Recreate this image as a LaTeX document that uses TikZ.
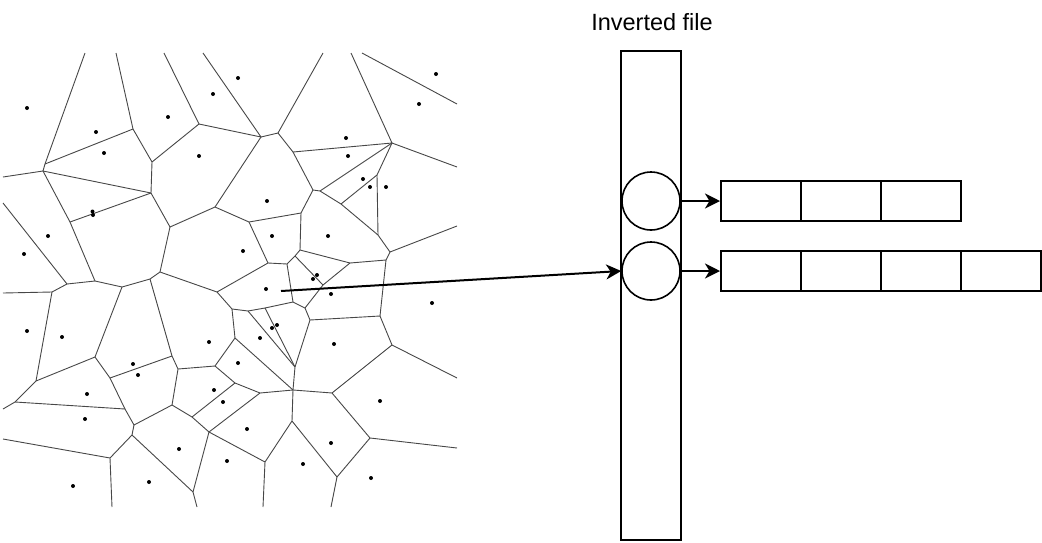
\documentclass[tikz,border=0pt]{standalone}
\usepackage{fontspec}
\newfontfamily\lsans{Liberation Sans}
\usetikzlibrary{arrows.meta}
\begin{document}
\begin{tikzpicture}[x=1pt,y=-1pt,
  vor/.style={draw=black!72, line width=0.9pt, line join=round},
  seed/.style={fill=black},
  frame/.style={draw=black, line width=2pt, inner sep=0pt, minimum width=80pt, minimum height=40pt},
  col/.style={draw=black, line width=2pt, inner sep=0pt, minimum width=60pt, minimum height=489pt},
  slot/.style={draw=black, line width=1.6pt, circle, inner sep=0pt, minimum size=58pt},
  link/.style={draw=black, line width=2pt, -{Stealth[length=15pt,width=15pt,inset=4.5pt]}}]
\useasboundingbox (0,0) rectangle (1042,542);
% ---- Voronoi vertices
\coordinate (A1) at (45,164); \coordinate (A2) at (43,171);
\coordinate (B) at (133,129); \coordinate (C) at (151,193);
\coordinate (D) at (152,162); \coordinate (E) at (199,124);
\coordinate (F) at (70,222); \coordinate (G) at (170,227);
\coordinate (H) at (215,207); \coordinate (I) at (160,272);
\coordinate (J) at (261,137); \coordinate (K) at (278,133);
\coordinate (L) at (293,152); \coordinate (M) at (392,143);
\coordinate (N) at (313,190); \coordinate (N2) at (320,191);
\coordinate (O) at (377,175); \coordinate (P) at (341,204);
\coordinate (Q1) at (378,235); \coordinate (Q) at (390,252);
\coordinate (R) at (301,213); \coordinate (S) at (249,222);
\coordinate (T) at (268,263); \coordinate (T2) at (287,264);
\coordinate (U) at (300,250); \coordinate (U2) at (295,256);
\coordinate (V) at (350,263); \coordinate (W) at (386,260);
\coordinate (X1) at (380,316); \coordinate (X2) at (392,345);
\coordinate (Y1) at (332,393); \coordinate (Y2) at (370,438);
\coordinate (Y3) at (337,477); \coordinate (Z1) at (292,421);
\coordinate (Z2) at (265,462);
\coordinate (a) at (67,284); \coordinate (b) at (95,281);
\coordinate (c) at (52,292); \coordinate (d) at (122,287);
\coordinate (e) at (150,279); \coordinate (f) at (36,381);
\coordinate (g) at (95,357); \coordinate (h) at (110,378);
\coordinate (i) at (172,356); \coordinate (j) at (134,425);
\coordinate (k) at (15,402); \coordinate (l) at (125,409);
\coordinate (m) at (132,435); \coordinate (n) at (110,458);
\coordinate (o) at (193,492); \coordinate (p) at (209,432);
\coordinate (q) at (172,405); \coordinate (r) at (178,369);
\coordinate (s) at (215,366); \coordinate (t) at (192,417);
\coordinate (t2) at (235,383); \coordinate (t3) at (260,393);
\coordinate (u) at (217,292); \coordinate (v) at (232,309);
\coordinate (v1) at (248,311); \coordinate (v2) at (265,308);
\coordinate (V2) at (235,338); \coordinate (w) at (293,302);
\coordinate (xp) at (305,308); \coordinate (x) at (310,320);
\coordinate (y) at (323,285); \coordinate (z) at (295,367);
\coordinate (zz) at (293,390);
% ---- Voronoi edges
\draw[vor] (85,53) -- (A1) -- (A2) -- (3,177);
\draw[vor] (A1) -- (B) -- (116,53);
\draw[vor] (A2) -- (C);
\draw[vor] (A2) -- (F) -- (b);
\draw[vor] (B) -- (D) -- (C) -- (G) -- (H) -- (J);
\draw[vor] (D) -- (E) -- (164,53);
\draw[vor] (E) -- (J) -- (203,53);
\draw[vor] (F) -- (C);
\draw[vor] (G) -- (I);
\draw[vor] (J) -- (K) -- (323,53);
\draw[vor] (K) -- (L) -- (M) -- (351,53);
\draw[vor] (362,53) -- (457,104);
\draw[vor] (M) -- (457,167);
\draw[vor] (L) -- (N) -- (N2) -- (M);
\draw[vor] (N2) -- (P) -- (Q1) -- (Q) -- (457,226);
\draw[vor] (P) -- (O) -- (M);
\draw[vor] (O) -- (Q1);
\draw[vor] (Q) -- (W) -- (V);
\draw[vor] (W) -- (X1);
\draw[vor] (N) -- (R) -- (S) -- (H);
\draw[vor] (S) -- (T) -- (T2);
\draw[vor] (R) -- (U) -- (V);
\draw[vor] (U) -- (U2) -- (T2) -- (w);
\draw[vor] (U2) -- (y) -- (V);
\draw[vor] (y) -- (xp) -- (w);
\draw[vor] (xp) -- (x) -- (X1) -- (X2) -- (457,378);
\draw[vor] (X2) -- (Y1) -- (zz);
\draw[vor] (Y1) -- (Y2) -- (457,448);
\draw[vor] (Y2) -- (Y3) -- (331,507);
\draw[vor] (Y3) -- (Z1) -- (zz) -- (z) -- (x);
\draw[vor] (z) -- (v1);
\draw[vor] (z) -- (v2);
\draw[vor] (u) -- (v) -- (v1) -- (v2) -- (w);
\draw[vor] (u) -- (T);
\draw[vor] (u) -- (I) -- (e) -- (d) -- (b) -- (a) -- (c) -- (3,293);
\draw[vor] (3,203) -- (a);
\draw[vor] (e) -- (i);
\draw[vor] (d) -- (g) -- (f) -- (c);
\draw[vor] (g) -- (h) -- (i);
\draw[vor] (h) -- (l) -- (j);
\draw[vor] (k) -- (l);
\draw[vor] (f) -- (k) -- (3,409);
\draw[vor] (j) -- (m) -- (n) -- (3,439);
\draw[vor] (n) -- (112,507);
\draw[vor] (m) -- (o) -- (197,507);
\draw[vor] (j) -- (q) -- (r) -- (i);
\draw[vor] (r) -- (s) -- (V2) -- (v);
\draw[vor] (V2) -- (zz);
\draw[vor] (s) -- (t2) -- (t3) -- (zz);
\draw[vor] (t2) -- (t) -- (q);
\draw[vor] (t) -- (p) -- (t3);
\draw[vor] (p) -- (o);
\draw[vor] (p) -- (Z2) -- (Z1);
\draw[vor] (Z2) -- (263,507);
% ---- seeds
\foreach \px/\py in {27/108, 96/132, 104/153, 168/117, 213/94, 238/78, 199/156,
  92.5/211.5, 93/215, 48/236, 24/254, 27/331, 62/337, 133/364, 138/375, 209/342,
  238/363, 87/394, 85/419, 214/390, 223/402, 179/449, 227/461, 149/482, 73/486,
  436/74, 419/104, 346/138, 348/156, 363/179, 370/187, 386/187, 267/201, 272/236,
  328/236, 243/251, 266/289, 313/279, 317/275, 331/294, 432/303, 272/328, 277/325,
  260/338, 334/344, 380/401, 247/429, 331/443, 303/464, 371/478}
  \fill[seed] (\px,\py) circle (2pt);
% ---- inverted file
\node[anchor=base, font=\lsans\fontsize{23.5}{28}\selectfont] (title) at (652,30) {Inverted file};
\node[col] (column) at (651,295.5) {};
\node[slot] (s1) at (651,201) {};
\node[slot] (s2) at (651,271) {};
\node[frame] (r11) at (761,201) {};
\node[frame] (r12) at (841,201) {};
\node[frame] (r13) at (921,201) {};
\node[frame] (r21) at (761,271) {};
\node[frame] (r22) at (841,271) {};
\node[frame] (r23) at (921,271) {};
\node[frame] (r24) at (1001,271) {};
\coordinate (query) at (281,291);
\draw[link] (s1.east) -- (r11.west);
\draw[link] (s2.east) -- (r21.west);
\draw[link] (query) -- (s2.west);
\end{tikzpicture}
\end{document}
